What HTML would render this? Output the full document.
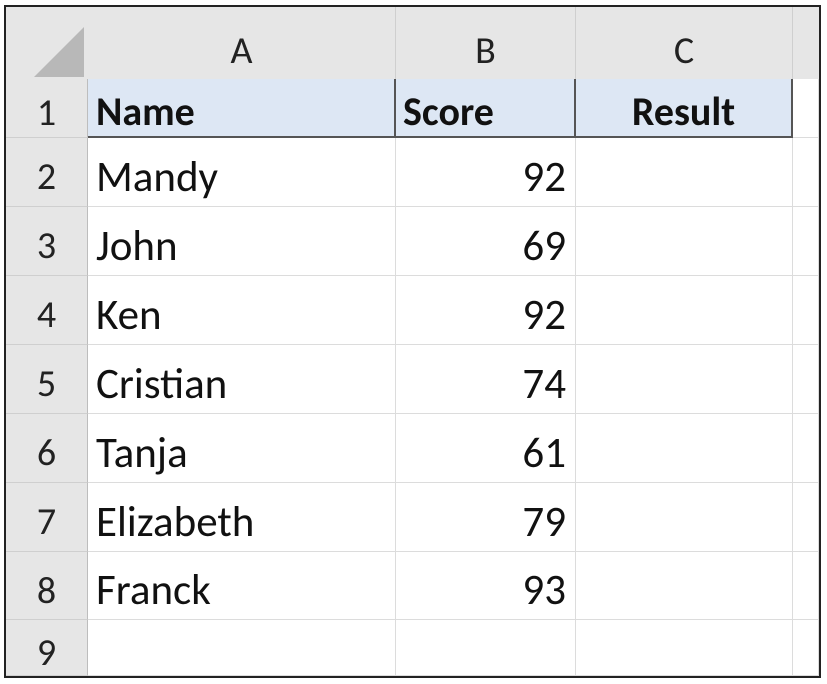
<!DOCTYPE html>
<html><head><meta charset="utf-8"><style>
html,body{margin:0;padding:0;background:#fff;width:827px;height:684px;overflow:hidden}
#sheet{position:absolute;left:4px;top:5px;width:813px;height:669px;border:2px solid #222;background:#fff;overflow:hidden;font-family:Carlito,"Liberation Sans",sans-serif}
.c{position:absolute;box-sizing:border-box;font-size:43px;color:#111;line-height:1;display:flex;align-items:center;overflow:hidden}
.h{background:#e6e6e6;color:#222;justify-content:center;font-size:38px}
</style></head><body>
<div id="sheet"></div>
<script>
const names=["Mandy","John","Ken","Cristian","Tanja","Elizabeth","Franck"];
const scores=[92,69,92,74,61,79,93];
const headers=["Name","Score","Result"];
const cols=["A","B","C"];
const sheet=document.getElementById('sheet');
const ox=6,oy=7;
const colX=[88,396,576,793,819];
const rowY=[79,138,207,276,345,414,483,552,620,676];
function el(x,y,w,h,cls,txt,style){const d=document.createElement('div');d.className='c '+(cls||'');d.style.left=(x-ox)+'px';d.style.top=(y-oy)+'px';d.style.width=w+'px';d.style.height=h+'px';if(txt!==undefined)d.textContent=txt;if(style)Object.assign(d.style,style);sheet.appendChild(d);return d;}
let hb=el(ox,oy,813,79-oy,'h');


let rb=el(ox,79,88-ox,676-79,'h');


let tri=el(34,27,50,50,'',undefined,{background:'#b8b8b8',clipPath:'polygon(100% 0,100% 100%,0 100%)'});


cols.forEach((c,i)=>{const d=el(colX[i],oy,colX[i+1]-colX[i],79-oy,'h',c,{paddingTop:'16px',borderRight:'1px solid #cfcfcf'});

});
let xh=el(793,oy,26,79-oy,'h','',{borderRight:'0'});


for(let r=0;r<9;r++){const d=el(ox,rowY[r],88-ox,rowY[r+1]-rowY[r],'h',String(r+1),{paddingTop:'10px',borderBottom:'1px solid #cfcfcf',borderRight:'1px solid #bdbdbd'});

}
for(let r=0;r<9;r++){for(let c=0;c<4;c++){
 const d=el(colX[c],rowY[r],colX[c+1]-colX[c],rowY[r+1]-rowY[r],'',undefined,{borderRight:'1px solid #dcdcdc',borderBottom:'1px solid #dcdcdc',paddingTop:'8px'});
 if(r===0&&c<3){d.style.background='#dde7f4';d.style.borderBottom='2px solid #555';d.style.borderRight='2px solid #555';d.style.fontWeight='bold';d.style.fontSize='40px';d.textContent=headers[c];
  d.style.paddingLeft=c===0?'8px':(c===1?'7px':'0');if(c===2)d.style.justifyContent='center';
  
 } else if(r>0&&r<8&&c===0){d.textContent=names[r-1];d.style.paddingLeft='8px';
  
 } else if(r>0&&r<8&&c===1){d.textContent=String(scores[r-1]);d.style.justifyContent='flex-end';d.style.paddingRight='9px';
  
 } else {
  
 }
 
}}
</script>
</body></html>
